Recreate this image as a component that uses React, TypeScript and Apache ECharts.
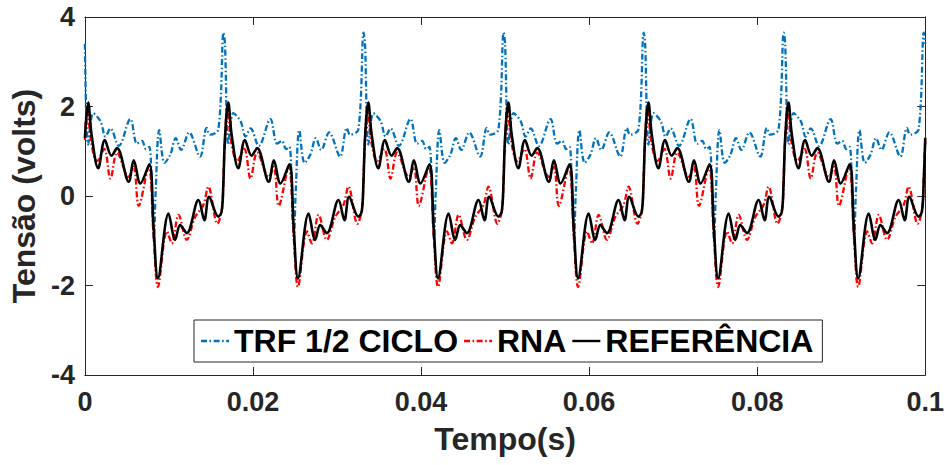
import React, { useEffect, useRef } from "react";
import * as echarts from "echarts";

// One cycle (60 Hz, 16.667 ms) of each waveform: phase in ms, value in volts
const trfPhase = [0.0, 0.4, 1.0, 1.86, 2.45, 3.04, 4.03, 5.41, 6.2, 6.79, 7.27, 7.66, 7.98, 8.2, 8.42, 8.85, 9.48, 10.15, 10.82, 11.45, 12.4, 13.7, 14.49, 14.89, 15.88, 16.5];
const trfValues = [3.4, 1.15, 1.85, 1.67, 1.33, 1.51, 1.12, 1.72, 1.17, 1.23, 1.05, 1.1, 0.0, -0.98, 0.1, 1.47, 0.74, 0.92, 1.29, 1.03, 1.42, 0.88, 1.52, 1.37, 1.49, 3.65];

const rnaPhase = [0.0, 0.28, 0.75, 1.46, 2.3, 3.04, 3.83, 5.21, 5.81, 6.4, 7.58, 8.18, 8.69, 9.76, 10.35, 11.14, 12.12, 13.11, 14.1, 14.69, 15.76, 16.3, 16.5];
const rnaValues = [1.25, 2.0, 1.2, 0.78, 1.05, 0.39, 0.97, 0.43, 0.65, -0.22, 0.65, -0.9, -2.03, -0.79, -1.06, -0.42, -0.98, -0.47, -0.2, 0.21, -0.62, -0.3, 0.5];

const refPhase = [0.0, 0.39, 0.8, 1.58, 2.37, 3.16, 3.83, 5.21, 5.81, 6.6, 7.66, 8.18, 8.69, 9.95, 10.74, 11.33, 12.12, 13.51, 14.22, 14.77, 15.88, 16.27, 16.47];
const refValues = [1.3, 2.09, 1.36, 0.62, 1.25, 0.9, 1.07, 0.32, 0.8, 0.28, 0.71, -0.72, -1.84, -0.39, -0.98, -0.65, -0.83, -0.09, -0.54, -0.02, -0.46, -0.35, 0.25];

const seriesNames = ["TRF 1/2 CICLO", "RNA", "REFERÊNCIA"];
const xTicks = [0, 0.02, 0.04, 0.06, 0.08, 0.1];
const yTicks = [-4, -2, 0, 2, 4];
const CYCLES = 6;
const PERIOD_MS = 1000 / 60;

function tile(phase: number[], vals: number[]): number[][] {
  const out: number[][] = [];
  for (let k = 0; k <= CYCLES; k++) {
    for (let i = 0; i < phase.length; i++) {
      const t = (k * PERIOD_MS + phase[i]) / 1000;
      if (t <= 0.1 + 1e-9) out.push([t, vals[i]]);
    }
  }
  return out;
}

const FONT = "'Liberation Sans', Arial, Helvetica, sans-serif";
const AXIS_COLOR = "#262626";
const DASH_DOT = [6, 2.5, 1.5, 2.5];
const ICON_DASHDOT = "path://M0,0h6v2.4h-6zM8.5,0h1.6v2.4h-1.6zM12.6,0h6v2.4h-6zM21.1,0h1.6v2.4h-1.6zM25.2,0h2.8v2.4h-2.8z";
const ICON_SOLID = "path://M0,0h28v2.4h-28z";

export default function App() {
  const ref = useRef<HTMLDivElement>(null);
  useEffect(() => {
    if (!ref.current) return;
    const chart = echarts.init(ref.current, undefined, { renderer: "svg" });
    const xMin = xTicks[0];
    const xMax = xTicks[xTicks.length - 1];
    const xInt = xTicks[1] - xTicks[0];
    const yMin = yTicks[0];
    const yMax = yTicks[yTicks.length - 1];
    const yInt = yTicks[1] - yTicks[0];
    const tickStyle = { show: true, inside: true, length: 8, lineStyle: { color: AXIS_COLOR, width: 1 } };
    const lineStyleAxis = { show: true, onZero: false, lineStyle: { color: AXIS_COLOR, width: 1 } };
    const labelStyle = { color: AXIS_COLOR, fontFamily: FONT, fontWeight: "bold" as const, fontSize: 27 };
    chart.setOption({
      animation: false,
      backgroundColor: "#ffffff",
      grid: { left: 82, right: 21, top: 17, bottom: 90, containLabel: false },
      legend: {
        left: 194,
        top: 320,
        orient: "horizontal",
        data: [
          { name: seriesNames[0], icon: ICON_DASHDOT },
          { name: seriesNames[1], icon: ICON_DASHDOT },
          { name: seriesNames[2], icon: ICON_SOLID },
        ],
        itemWidth: 28,
        itemHeight: 2.4,
        itemGap: 6,
        padding: [5, 9, 5, 7],
        backgroundColor: "#ffffff",
        borderColor: AXIS_COLOR,
        borderWidth: 1,
        textStyle: { color: "#000000", fontFamily: FONT, fontWeight: "bold", fontSize: 32 },
      },
      xAxis: [
        {
          type: "value",
          min: xMin,
          max: xMax,
          interval: xInt,
          position: "bottom",
          name: "Tempo(s)",
          nameLocation: "middle",
          nameGap: 48,
          nameTextStyle: { color: AXIS_COLOR, fontFamily: FONT, fontWeight: "bold", fontSize: 32 },
          axisLine: lineStyleAxis,
          axisTick: tickStyle,
          axisLabel: { ...labelStyle, margin: 13 },
          splitLine: { show: false },
        },
        {
          type: "value",
          min: xMin,
          max: xMax,
          interval: xInt,
          position: "top",
          axisLine: lineStyleAxis,
          axisTick: tickStyle,
          axisLabel: { show: false },
          splitLine: { show: false },
        },
      ],
      yAxis: [
        {
          type: "value",
          min: yMin,
          max: yMax,
          interval: yInt,
          position: "left",
          name: "Tensão (volts)",
          nameLocation: "middle",
          nameGap: 38,
          nameRotate: 90,
          nameTextStyle: { color: AXIS_COLOR, fontFamily: FONT, fontWeight: "bold", fontSize: 32 },
          axisLine: lineStyleAxis,
          axisTick: tickStyle,
          axisLabel: { ...labelStyle, margin: 10 },
          splitLine: { show: false },
        },
        {
          type: "value",
          min: yMin,
          max: yMax,
          interval: yInt,
          position: "right",
          axisLine: lineStyleAxis,
          axisTick: tickStyle,
          axisLabel: { show: false },
          splitLine: { show: false },
        },
      ],
      series: [
        {
          name: seriesNames[0],
          type: "line",
          data: tile(trfPhase, trfValues),
          symbol: "none",
          smooth: 0.35,
          lineStyle: { color: "#0072BD", width: 2.3, type: DASH_DOT },
          itemStyle: { color: "#0072BD" },
        },
        {
          name: seriesNames[1],
          type: "line",
          data: tile(rnaPhase, rnaValues),
          symbol: "none",
          smooth: 0.35,
          lineStyle: { color: "#FF0000", width: 2.3, type: DASH_DOT },
          itemStyle: { color: "#FF0000" },
        },
        {
          name: seriesNames[2],
          type: "line",
          data: tile(refPhase, refValues),
          symbol: "none",
          smooth: 0.35,
          lineStyle: { color: "#000000", width: 2.6, type: "solid" },
          itemStyle: { color: "#000000" },
        },
      ],
    });
    return () => chart.dispose();
  }, []);
  return (
    <div
      ref={ref}
      style={{ position: "fixed", left: 0, top: 0, width: 947, height: 465, background: "#fff" }}
    />
  );
}
